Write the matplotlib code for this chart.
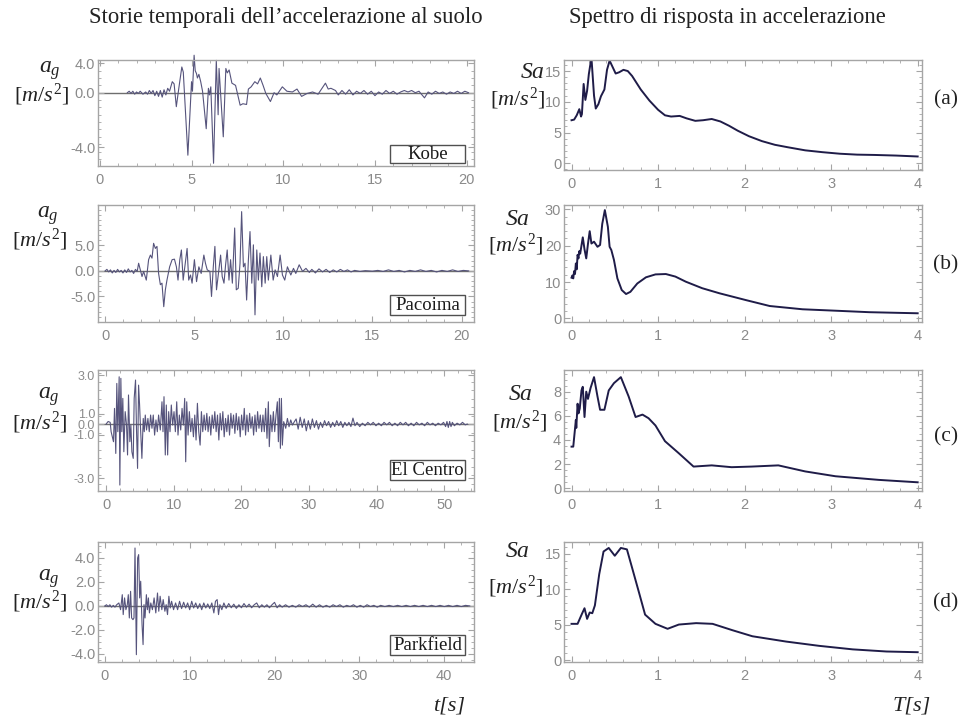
import numpy as np
import matplotlib
matplotlib.use("Agg")
import matplotlib.pyplot as plt
from matplotlib.patches import Rectangle
from matplotlib.ticker import FixedLocator, MultipleLocator

#---------------------------------------------------------------------------------------------------------------------------
# Ground acceleration histories (t [s], a_g [m/s^2])

kobe_acc = [(1.5, 0.0), (1.6, 0.2), (1.7, -0.1), (1.8, 0.2), (1.9, -0.2), (2.0, 0.1), (2.1, -0.1), (2.2, 0.2),
            (2.35, -0.2), (2.5, 0.1), (2.6, -0.2), (2.7, 0.3), (2.8, -0.1), (2.9, 0.3), (3.0, -0.4), (3.1, 0.2),
            (3.2, -0.5), (3.3, 0.3), (3.4, -0.6), (3.5, 0.4), (3.6, -0.3), (3.7, 0.6), (3.8, 0.2), (3.95, 1.5),
            (4.05, 1.2), (4.17, -1.9), (4.3, 0.5), (4.47, 3.5), (4.55, 2.8), (4.8, -8.5), (5.0, 1.5), (5.05, 0.2),
            (5.14, 5.1), (5.2, 3.0), (5.27, 2.6), (5.32, 2.0), (5.4, 2.5), (5.5, 1.5), (5.6, 0.2), (5.8, -4.9),
            (5.92, 0.6), (5.98, -0.3), (6.05, 0.8), (6.2, -9.6), (6.35, 4.4), (6.45, -3.0), (6.5, 3.3), (6.73, -6.0),
            (6.87, 3.3), (6.95, 2.7), (7.05, 3.1), (7.2, 1.3), (7.4, 1.0), (7.65, -1.7), (7.8, -1.5), (8.0, -1.6),
            (8.1, 0.5), (8.25, 0.8), (8.45, 1.5), (8.6, 1.2), (8.75, 2.0), (8.9, 1.0), (9.05, -0.1), (9.3, -1.2),
            (9.5, 0.0), (9.65, -0.3), (9.95, 0.8), (10.2, 0.2), (10.5, 0.1), (10.75, 0.5), (11.0, -0.5), (11.3, -0.1),
            (11.6, 0.1), (11.9, -0.2), (12.3, 1.3), (12.45, 0.5), (12.6, 0.6), (12.85, 0.3), (13.0, -0.3), (13.2, 0.3),
            (13.4, -0.2), (13.6, 0.4), (13.8, -0.3), (14.0, 0.2), (14.2, -0.1), (14.4, 0.3), (14.6, -0.2), (14.8, 0.2),
            (15.0, -0.4), (15.2, 0.1), (15.4, -0.2), (15.6, 0.3), (15.8, -0.1), (16.0, 0.2), (16.2, -0.2), (16.4, 0.1),
            (16.6, 0.3), (16.8, 0.1), (17.0, 0.3), (17.2, 0.0), (17.4, 0.2), (17.7, -0.7), (17.9, 0.1), (18.1, -0.2),
            (18.3, 0.2), (18.5, -0.1), (18.7, 0.1), (18.9, -0.2), (19.1, 0.1), (19.3, -0.1), (19.5, 0.2), (19.7, -0.1),
            (19.9, 0.2), (20.1, 0.0)]

pacoima_acc = [(0.0, 0.0), (0.1, 0.3), (0.2, -0.2), (0.3, 0.2), (0.4, -0.4), (0.5, 0.1), (0.6, -0.3), (0.7, 0.3),
               (0.8, -0.2), (0.9, 0.1), (1.0, -0.4), (1.1, 0.2), (1.2, -0.3), (1.3, 0.4), (1.4, -0.2), (1.5, 0.1),
               (1.6, -0.5), (1.7, 0.3), (1.8, -0.1), (1.88, 1.5), (2.07, -1.1), (2.16, -0.1), (2.31, -1.8), (2.44, 2.2),
               (2.54, 3.1), (2.63, 2.5), (2.72, 5.4), (2.82, 4.4), (2.91, 4.8), (3.0, -0.5), (3.1, -2.7), (3.19, -2.4),
               (3.29, -7.0), (3.38, -3.7), (3.47, -1.8), (3.62, 0.8), (3.76, 2.2), (3.89, 2.3), (4.0, 0.8), (4.09, -1.8),
               (4.19, 2.2), (4.28, 4.1), (4.38, -1.8), (4.47, 0.8), (4.6, 4.4), (4.69, -1.8), (4.79, -0.8), (4.88, -2.4),
               (5.01, 2.2), (5.13, -2.1), (5.26, 0.8), (5.39, -0.5), (5.54, 3.1), (5.63, 1.5), (5.73, 0.2), (5.88, -0.1),
               (5.97, -5.0), (6.07, 0.8), (6.16, 4.8), (6.25, -3.7), (6.38, 0.2), (6.48, 3.1), (6.57, -1.1), (6.67, -2.4),
               (6.76, 1.2), (6.85, 4.1), (6.95, -1.8), (7.04, 2.2), (7.14, -2.4), (7.27, 8.4), (7.36, -3.7), (7.47, -3.4),
               (7.57, 1.5), (7.66, 11.6), (7.76, 0.8), (7.85, 1.5), (7.94, -5.7), (8.04, 2.2), (8.13, 7.7), (8.23, -2.4),
               (8.32, 5.1), (8.41, -8.6), (8.51, 4.1), (8.6, -1.8), (8.69, 3.5), (8.79, -3.1), (8.88, 2.8), (8.98, -2.4),
               (9.07, 2.8), (9.16, -1.8), (9.3, 3.1), (9.43, -1.8), (9.54, 0.2), (9.67, -1.1), (9.82, 3.1), (9.95, -0.8),
               (10.08, -1.8), (10.23, 0.8), (10.42, -0.8), (10.57, 0.5), (10.7, -0.5), (10.89, 1.2), (11.08, -0.1),
               (11.27, 0.5), (11.46, -0.3), (11.6, 0.3), (11.8, -0.4), (12.0, 0.4), (12.2, -0.2), (12.4, 0.3), (12.6, -0.3),
               (12.8, 0.2), (13.0, -0.2), (13.2, 0.3), (13.4, -0.1), (13.6, 0.2), (13.8, -0.2), (14.0, 0.1), (14.3, -0.1),
               (14.6, 0.05), (15.0, -0.05), (15.3, 0.1), (15.6, -0.1), (15.9, 0.2), (16.2, -0.1), (16.5, 0.1), (16.8, -0.2),
               (17.1, 0.1), (17.4, -0.1), (17.7, 0.2), (18.0, -0.1), (18.3, 0.1), (18.6, -0.2), (18.9, 0.1), (19.2, -0.1),
               (19.5, 0.2), (19.8, -0.1), (20.1, 0.1), (20.4, 0.0)]

elcentro_acc = [(0.0, 0.0), (0.3, 0.15), (0.6, 0.1), (0.74, -0.45), (1.09, -1.04), (1.24, 0.92), (1.43, -1.73),
                (1.58, 2.39), (1.73, -0.45), (1.93, 2.78), (2.03, -3.59), (2.18, 2.69), (2.32, -0.45), (2.47, 1.51),
                (2.62, -1.63), (2.82, 0.73), (3.02, -0.06), (3.17, -1.82), (3.31, 1.71), (3.51, -1.04), (3.66, -0.06),
                (3.81, -1.63), (4.01, -2.02), (4.15, 1.51), (4.35, 2.59), (4.5, -0.45), (4.65, -2.61), (4.8, 2.29),
                (4.95, 1.12), (5.09, -0.25), (5.29, -2.02), (5.49, 0.33), (5.64, -0.45), (5.79, 0.53), (5.98, -0.35),
                (6.18, 0.33), (6.38, -0.45), (6.58, 0.53), (6.78, -0.25), (6.97, 0.53), (7.17, -0.65), (7.37, 0.24),
                (7.57, -0.45), (7.76, 0.53), (8.01, -0.35), (8.26, 1.31), (8.41, -0.45), (8.56, 1.61), (8.75, -1.82),
                (8.9, 1.12), (9.1, -1.82), (9.25, 0.73), (9.45, -0.45), (9.64, 1.12), (9.84, -0.06), (10.04, 0.73),
                (10.24, -0.45), (10.44, 1.31), (10.63, -0.65), (10.83, 0.53), (11.03, -0.35), (11.23, 0.92),
                (11.42, -0.06), (11.62, 1.51), (11.77, -2.22), (11.92, 1.31), (12.12, -0.65), (12.31, 0.73),
                (12.51, -0.45), (12.71, 0.33), (12.91, -0.75), (13.11, 0.53), (13.3, -0.94), (13.5, 1.22), (13.7, -0.45),
                (13.9, -1.24), (14.09, 0.73), (14.29, -0.45), (14.49, 0.53), (14.69, -0.35), (14.89, 0.63), (15.08, -0.45),
                (15.28, 0.43), (15.48, -0.65), (15.68, 0.53), (15.88, -0.25), (16.07, 0.73), (16.27, -0.45), (16.47, 0.53),
                (16.67, -0.94), (16.86, 0.63), (17.06, -0.35), (17.26, 0.73), (17.46, -0.75), (17.66, 0.33), (17.85, -0.45),
                (18.05, 0.53), (18.25, -0.65), (18.45, 0.63), (18.64, -0.25), (18.84, 0.53), (19.04, -0.55), (19.24, 0.63),
                (19.44, -0.35), (19.63, 0.43), (19.83, -0.75), (20.03, 0.53), (20.23, -0.35), (20.43, 0.92), (20.62, -0.65),
                (20.82, 0.53), (21.02, -0.45), (21.22, 0.63), (21.41, -0.25), (21.61, 0.43), (21.81, -0.65), (22.01, 0.53),
                (22.21, -0.45), (22.4, 0.73), (22.6, -0.25), (22.8, 0.53), (23.0, -0.45), (23.19, 0.53), (23.39, -0.45),
                (23.59, 0.92), (23.79, -0.84), (23.99, 1.31), (24.13, -1.33), (24.33, 0.53), (24.53, -0.45), (24.73, 0.73),
                (24.93, -0.45), (25.12, 0.53), (25.32, 1.31), (25.47, -1.04), (25.62, 1.51), (25.77, -1.43), (25.92, 1.51),
                (26.06, -1.24), (26.26, 0.14), (26.56, -0.25), (26.81, 0.33), (27.05, -0.16), (27.3, 0.24), (27.55, -0.06),
                (27.84, 0.14), (28.1, 0.3), (28.4, -0.3), (28.7, 0.4), (29.0, -0.2), (29.3, 0.3), (29.6, -0.4), (29.9, 0.2),
                (30.2, -0.3), (30.5, 0.3), (30.8, -0.2), (31.1, 0.2), (31.4, -0.3), (31.7, 0.1), (32.0, -0.2), (32.3, 0.2),
                (32.6, -0.1), (32.9, 0.15), (33.2, -0.2), (33.5, 0.1), (33.8, -0.15), (34.1, 0.2), (34.4, -0.1), (34.7, 0.15),
                (35.0, -0.2), (35.3, 0.1), (35.6, -0.1), (35.9, 0.1), (36.2, -0.15), (36.5, 0.35), (36.8, -0.1), (37.1, 0.1),
                (37.5, -0.15), (37.9, 0.05), (38.3, -0.1), (38.7, 0.1), (39.1, -0.05), (39.5, 0.1), (39.9, -0.1), (40.3, 0.05),
                (40.7, -0.1), (41.1, 0.1), (41.5, -0.05), (41.9, 0.1), (42.3, -0.1), (42.7, 0.05), (43.1, -0.1), (43.5, 0.1),
                (43.9, -0.05), (44.3, 0.1), (44.7, -0.1), (45.1, 0.05), (45.5, -0.1), (45.9, 0.1), (46.3, -0.05), (46.7, 0.05),
                (47.1, -0.1), (47.5, 0.1), (47.9, -0.05), (48.3, 0.05), (48.7, -0.1), (49.1, 0.05), (49.5, -0.05), (49.9, 0.1),
                (50.2, -0.15), (50.4, 0.15), (50.6, -0.2), (50.8, 0.15), (51.0, -0.15), (51.2, 0.1), (51.5, -0.1), (51.9, 0.05),
                (52.3, -0.05), (52.7, 0.1), (53.1, -0.05), (53.4, 0.0)]

parkfield_acc = [(0.0, 0.0), (0.2, 0.1), (0.4, -0.05), (0.6, 0.1), (0.8, -0.1), (1.0, 0.05), (1.2, -0.1), (1.4, 0.1),
                 (1.66, 0.25), (1.86, -0.31), (2.06, 0.94), (2.17, -0.72), (2.33, 0.67), (2.49, -0.31), (2.65, 0.11),
                 (2.77, 0.94), (2.89, -1.0), (3.04, 1.22), (3.16, -1.0), (3.32, -1.14), (3.44, -1.0), (3.56, 4.83),
                 (3.72, -4.06), (3.87, 4.0), (3.99, 4.28), (4.11, 0.67), (4.23, 2.06), (4.39, -1.56), (4.51, -3.22),
                 (4.62, 0.11), (4.74, -1.0), (4.9, 0.94), (5.02, -0.31), (5.14, 0.67), (5.26, -0.58), (5.42, 0.25),
                 (5.61, -0.31), (5.81, 0.67), (6.01, -0.58), (6.21, 1.08), (6.36, -0.44), (6.52, 0.81), (6.72, -0.31),
                 (6.88, 0.53), (7.08, -0.44), (7.23, 0.11), (7.39, -0.72), (7.55, 0.81), (7.71, -0.17), (7.87, 0.39),
                 (8.1, -0.31), (8.34, 0.25), (8.58, -0.31), (8.81, 0.39), (9.05, -0.22), (9.29, 0.31), (9.53, -0.17),
                 (9.76, 0.25), (10.0, -0.31), (10.24, 0.39), (10.47, -0.17), (10.71, 0.25), (10.95, -0.22), (11.19, 0.19),
                 (11.42, -0.31), (11.66, 0.25), (11.9, -0.17), (12.13, 0.17), (12.37, -0.22), (12.61, 0.25), (12.85, -0.58),
                 (13.04, 0.39), (13.24, 0.53), (13.4, -0.72), (13.56, 0.11), (13.79, -0.31), (14.03, 0.25), (14.3, -0.2),
                 (14.6, 0.2), (14.9, -0.15), (15.2, 0.15), (15.5, -0.2), (15.8, 0.1), (16.1, -0.15), (16.4, 0.2), (16.7, -0.1),
                 (17.0, 0.15), (17.3, -0.15), (17.6, 0.1), (17.9, 0.25), (18.2, -0.15), (18.5, 0.1), (18.8, -0.1), (19.1, 0.1),
                 (19.4, -0.15), (19.7, 0.1), (20.0, 0.3), (20.3, -0.15), (20.6, 0.1), (20.9, -0.1), (21.3, 0.1), (21.7, -0.1),
                 (22.1, 0.05), (22.5, -0.1), (22.9, 0.1), (23.3, -0.05), (23.7, 0.1), (24.1, -0.1), (24.5, 0.15), (24.9, -0.1),
                 (25.3, 0.1), (25.7, -0.1), (26.1, 0.05), (26.5, -0.1), (26.9, 0.1), (27.3, -0.05), (27.7, 0.1), (28.1, -0.1),
                 (28.5, 0.05), (28.9, -0.05), (29.3, 0.1), (29.7, -0.1), (30.1, 0.05), (30.5, -0.1), (30.9, 0.1), (31.3, -0.05),
                 (31.7, 0.05), (32.1, -0.1), (32.5, 0.05), (33.0, -0.05), (33.5, 0.05), (34.0, -0.05), (34.5, 0.05),
                 (35.0, -0.05), (35.5, 0.05), (36.0, -0.05), (36.5, 0.05), (37.0, -0.05), (37.5, 0.05), (38.0, -0.05),
                 (38.5, 0.05), (39.0, -0.05), (39.5, 0.05), (40.0, -0.05), (40.5, 0.05), (41.0, -0.05), (41.5, 0.05),
                 (42.0, -0.05), (42.5, 0.05), (43.0, 0.0)]

#---------------------------------------------------------------------------------------------------------------------------
# Acceleration response spectra (T [s], Sa [m/s^2])

kobe_sa = [(0.0, 7.0), (0.03, 7.1), (0.06, 7.8), (0.09, 8.8), (0.11, 7.6), (0.12, 8.0), (0.14, 12.9), (0.16, 10.3),
           (0.18, 11.8), (0.2, 14.5), (0.23, 17.2), (0.26, 11.0), (0.28, 8.9), (0.31, 9.6), (0.34, 10.9), (0.38, 12.0),
           (0.41, 15.2), (0.44, 16.7), (0.47, 15.8), (0.51, 14.6), (0.55, 14.8), (0.6, 15.2), (0.65, 15.0), (0.7, 14.2),
           (0.8, 12.0), (0.9, 10.2), (1.0, 8.7), (1.08, 7.8), (1.15, 7.6), (1.25, 7.7), (1.33, 7.3), (1.43, 6.9),
           (1.52, 7.0), (1.62, 7.2), (1.72, 6.8), (1.82, 6.1), (1.92, 5.3), (2.05, 4.4), (2.2, 3.6), (2.35, 3.0),
           (2.5, 2.6), (2.7, 2.1), (2.9, 1.8), (3.1, 1.55), (3.3, 1.4), (3.5, 1.35), (3.75, 1.25), (4.0, 1.1)]

pacoima_sa = [(0.0, 11.2), (0.01, 11.8), (0.02, 11.0), (0.03, 13.0), (0.04, 12.2), (0.05, 15.1), (0.06, 13.5),
              (0.07, 17.5), (0.08, 16.5), (0.09, 18.5), (0.1, 17.8), (0.11, 19.3), (0.13, 22.3), (0.15, 19.0),
              (0.17, 16.5), (0.19, 20.5), (0.21, 24.0), (0.23, 20.6), (0.26, 21.1), (0.3, 19.7), (0.33, 20.2),
              (0.355, 26.0), (0.385, 29.8), (0.42, 25.2), (0.44, 19.7), (0.46, 18.8), (0.49, 16.1), (0.53, 11.0),
              (0.58, 7.8), (0.63, 6.7), (0.68, 7.3), (0.76, 9.6), (0.86, 11.3), (0.97, 12.1), (1.09, 12.2), (1.2, 11.5),
              (1.32, 10.1), (1.51, 8.3), (1.71, 6.9), (2.02, 5.0), (2.29, 3.4), (2.67, 2.5), (3.06, 2.1), (3.44, 1.7),
              (4.0, 1.4)]

elcentro_sa = [(0.0, 3.45), (0.02, 3.45), (0.05, 5.65), (0.055, 5.0), (0.07, 7.0), (0.08, 6.2), (0.095, 6.6),
               (0.115, 8.1), (0.13, 8.4), (0.15, 5.9), (0.17, 8.0), (0.19, 7.4), (0.22, 8.3), (0.26, 9.2), (0.3, 7.6),
               (0.33, 6.5), (0.38, 6.5), (0.43, 8.1), (0.49, 8.7), (0.57, 9.2), (0.66, 7.6), (0.74, 5.9), (0.82, 6.1),
               (0.89, 5.8), (0.97, 5.2), (1.08, 3.9), (1.24, 2.9), (1.41, 1.8), (1.62, 1.9), (1.85, 1.75), (2.08, 1.8),
               (2.39, 1.9), (2.7, 1.4), (3.05, 1.0), (3.55, 0.7), (4.0, 0.5)]

parkfield_sa = [(0.0, 5.1), (0.07, 5.1), (0.12, 6.5), (0.15, 7.3), (0.18, 5.8), (0.21, 6.7), (0.24, 6.6), (0.27, 7.7),
                (0.32, 12.1), (0.37, 15.3), (0.43, 15.8), (0.5, 14.7), (0.57, 15.8), (0.64, 15.6), (0.7, 13.0),
                (0.78, 9.5), (0.85, 6.4), (0.97, 5.1), (1.11, 4.4), (1.24, 5.0), (1.44, 5.2), (1.63, 5.1), (1.86, 4.2),
                (2.09, 3.35), (2.48, 2.6), (2.86, 2.0), (3.25, 1.5), (3.64, 1.2), (4.0, 1.1)]

#---------------------------------------------------------------------------------------------------------------------------
# Names and tick labels

quake_names = ['Kobe', 'Pacoima', 'El Centro', 'Parkfield']
panel_tags = ['(a)', '(b)', '(c)', '(d)']
hist_ytick_labels = [['4.0', '0.0', '-4.0'],
                     ['5.0', '0.0', '-5.0'],
                     ['3.0', '1.0', '0.0', '-1.0', '-3.0'],
                     ['4.0', '2.0', '0.0', '-2.0', '-4.0']]
hist_xtick_labels = [[0, 5, 10, 15, 20], [0, 5, 10, 15, 20], [0, 10, 20, 30, 40, 50], [0, 10, 20, 30, 40]]
spec_ytick_labels = [[0, 5, 10, 15], [0, 10, 20, 30], [0, 2, 4, 6, 8], [0, 5, 10, 15]]
spec_xtick_labels = [0, 1, 2, 3, 4]

#---------------------------------------------------------------------------------------------------------------------------

plt.rcParams['font.family'] = ['Liberation Sans', 'DejaVu Sans']
plt.rcParams['mathtext.fontset'] = 'custom'
plt.rcParams['mathtext.rm'] = 'Liberation Serif'
plt.rcParams['mathtext.it'] = 'Liberation Serif:italic'
plt.rcParams['mathtext.bf'] = 'Liberation Serif:bold'

W, H = 969, 720
fig = plt.figure(figsize=(W / 100, H / 100), dpi=100)
fig.patch.set_facecolor('white')

FRAME = '#a5a5a5'
TICKTXT = '#8a8a8a'
SERIF = ['Liberation Serif', 'DejaVu Serif']


def px_axes(x0, y0, x1, y1):
    # pixel box (top-left origin) -> axes
    return fig.add_axes([x0 / W, 1 - y1 / H, (x1 - x0) / W, (y1 - y0) / H])


def style_frame(ax, ysize=10.5):
    for sp in ax.spines.values():
        sp.set_color(FRAME)
        sp.set_linewidth(1.0)
    ax.tick_params(which='both', direction='in', top=True, right=True, color=FRAME,
                   labelcolor=TICKTXT, labelsize=10.5)
    ax.tick_params(axis='y', labelsize=ysize)
    ax.tick_params(which='major', length=4, width=0.8)
    ax.tick_params(which='minor', length=2, width=0.6)
    ax.tick_params(axis='x', which='major', pad=5)
    ax.tick_params(axis='y', which='major', pad=2)
    ax.set_facecolor('white')


def ftext(x, y, s, **kw):
    fig.text(x / W, 1 - y / H, s, ha='center', va='center', **kw)


#---------------------------------------------------------------------------------------------------------------------------
# Left column : time histories

left_rows = [(60, 166), (205, 322), (370, 491), (542, 662)]
hist_data = [kobe_acc, pacoima_acc, elcentro_acc, parkfield_acc]
hist_xlim = [(-0.1, 20.4), (-0.4, 20.7), (-1.2, 54.4), (-0.8, 43.5)]
hist_ylim = [(-9.97, 4.45), (-10.0, 12.9), (-3.94, 3.18), (-4.67, 5.33)]
hist_ytick_pos = [[4.0, 0.0, -7.39], [5.0, 0.0, -5.0], [2.88, 0.62, 0.0, -0.64, -3.19], [4.0, 2.0, 0.0, -2.0, -4.0]]
hist_xminor = [1, 1, 2, 2]
box_rows = [(145, 163), (295, 315), (460, 480), (635, 655)]
ag_pos = [((50, 71), (42, 95)), ((48, 216), (40, 240)), ((49, 397), (40, 423)), ((49, 579), (40, 602))]

for i in range(4):
    y0, y1 = left_rows[i]
    ax = px_axes(98, y0, 474, y1)
    style_frame(ax, 9 if i == 2 else 10.5)
    d = np.array(hist_data[i])
    ax.axhline(0, color='#6e6e6e', lw=1.0, zorder=1)
    ax.plot(d[:, 0], d[:, 1], color='#56547c', lw=0.8, zorder=2, clip_on=False)
    ax.set_xlim(*hist_xlim[i])
    ax.set_ylim(*hist_ylim[i])
    ax.xaxis.set_major_locator(FixedLocator(hist_xtick_labels[i]))
    ax.set_xticklabels([str(v) for v in hist_xtick_labels[i]])
    ax.xaxis.set_minor_locator(MultipleLocator(hist_xminor[i]))
    ax.yaxis.set_major_locator(FixedLocator(hist_ytick_pos[i]))
    ax.set_yticklabels(hist_ytick_labels[i])
    ax.yaxis.set_minor_locator(MultipleLocator(0.5 if i >= 2 else 1))
    # legend style box
    by0, by1 = box_rows[i]
    fig.add_artist(Rectangle((390 / W, 1 - by1 / H), 75 / W, (by1 - by0) / H, transform=fig.transFigure,
                             facecolor='white', edgecolor='#505050', lw=1.0, zorder=5))
    ftext(427.5, (by0 + by1) / 2 + 0.5, quake_names[i], family=SERIF, fontsize=13.5, color='#1a1a1a', zorder=6)
    (ax_, ay_), (bx_, by_) = ag_pos[i]
    ftext(ax_, ay_, r'$a_g$', fontsize=17, color='#222222')
    ftext(bx_, by_, r'$[m/s^2]$', fontsize=16, color='#222222')

#---------------------------------------------------------------------------------------------------------------------------
# Right column : response spectra

right_rows = [(60, 170), (205, 322), (370, 491), (542, 662)]
spec_data = [kobe_sa, pacoima_sa, elcentro_sa, parkfield_sa]
spec_ylim = [(-1.1, 16.8), (-1.0, 31.2), (-0.22, 9.79), (-0.28, 16.64)]
spec_yminor = [1, 2, 0.5, 1]
sa_pos = [((532, 72), (518, 99)), ((517, 219), (516, 245)), ((520, 394), (520, 422)), ((517, 551), (516, 587))]
tag_y = [100, 265, 437, 603]

for i in range(4):
    y0, y1 = right_rows[i]
    ax = px_axes(564, y0, 922, y1)
    style_frame(ax)
    d = np.array(spec_data[i])
    ax.plot(d[:, 0], d[:, 1], color='#1f1c48', lw=1.4, zorder=2)
    ax.set_xlim(-0.087, 4.05)
    ax.set_ylim(*spec_ylim[i])
    ax.xaxis.set_major_locator(FixedLocator(spec_xtick_labels))
    ax.set_xticklabels([str(v) for v in spec_xtick_labels])
    ax.xaxis.set_minor_locator(MultipleLocator(0.2))
    ax.yaxis.set_major_locator(FixedLocator(spec_ytick_labels[i]))
    ax.set_yticklabels([str(v) for v in spec_ytick_labels[i]])
    ax.yaxis.set_minor_locator(MultipleLocator(spec_yminor[i]))
    (sx, sy), (bx_, by_) = sa_pos[i]
    ftext(sx, sy, r'$Sa$', fontsize=17, color='#222222')
    ftext(bx_, by_, r'$[m/s^2]$', fontsize=16, color='#222222')
    ftext(946, tag_y[i], panel_tags[i], family=SERIF, fontsize=15.5, color='#222222')

#---------------------------------------------------------------------------------------------------------------------------
# Titles and axis names

ftext(286, 18, 'Storie temporali dell\u2019accelerazione al suolo', family=SERIF, fontsize=16.3, color='#222222')
ftext(727, 18, 'Spettro di risposta in accelerazione', family=SERIF, fontsize=16.3, color='#222222')
ftext(449, 706, 't[s]', family=SERIF, style='italic', fontsize=16, color='#222222')
ftext(912, 706, 'T[s]', family=SERIF, style='italic', fontsize=16, color='#222222')

fig.savefig('out.png', dpi=100, facecolor='white')
